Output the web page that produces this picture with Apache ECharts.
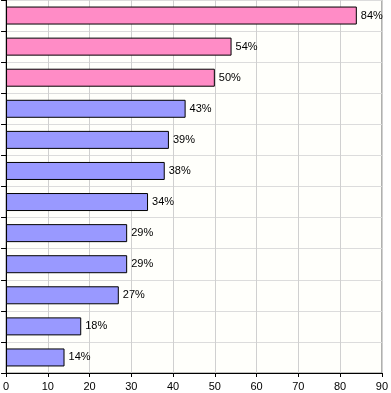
<!DOCTYPE html>
<html><head><meta charset="utf-8">
<script src="https://cdn.jsdelivr.net/npm/echarts@6/dist/echarts.min.js"></script>
<style>html,body{margin:0;padding:0;background:#fff}#c{width:391px;height:393px}</style>
</head><body><div id="c"></div>
<script>
const categories = ['A','B','C','D','E','F','G','H','I','J','K','L'];
const values = [84, 54, 50, 43, 39, 38, 34, 29, 29, 27, 18, 14];
const highlightCount = 3;
const xTicks = [0,10,20,30,40,50,60,70,80,90];

const chart = echarts.init(document.getElementById('c'), null, {renderer:'canvas'});
chart.setOption({
  animation:false,
  backgroundColor:'#ffffff',
  grid:{left:5, right:6, top:0, bottom:20, show:true, borderColor:'#808080', borderWidth:1, backgroundColor:'#fffffb'},
  xAxis:{type:'value', min:0, max:90, interval:10,
    axisLine:{show:true, lineStyle:{color:'#000', width:1}},
    axisTick:{show:true, length:4, lineStyle:{color:'#000'}},
    axisLabel:{color:'#000', fontFamily:'Liberation Sans, Arial', fontSize:11, margin:8},
    splitLine:{show:true, lineStyle:{color:'#d0d0d0', width:1}}},
  yAxis:{type:'category', data:categories, inverse:true,
    axisLine:{show:true, lineStyle:{color:'#000', width:1}},
    axisTick:{show:true, length:5, lineStyle:{color:'#000'}},
    axisLabel:{show:false},
    splitLine:{show:true, lineStyle:{color:'#dcdcdc', width:1}}},
  series:[{type:'bar', barWidth:18,
    data: values.map((v,i)=>({value:v, itemStyle:{color: i<highlightCount ? '#ff8cc6' : '#9999ff'}})),
    itemStyle:{borderColor:'#000', borderWidth:1},
    label:{show:true, position:'right', distance:4, formatter:'{c}%', color:'#000', fontFamily:'Liberation Sans, Arial', fontSize:11}
  }]
});
</script></body></html>
